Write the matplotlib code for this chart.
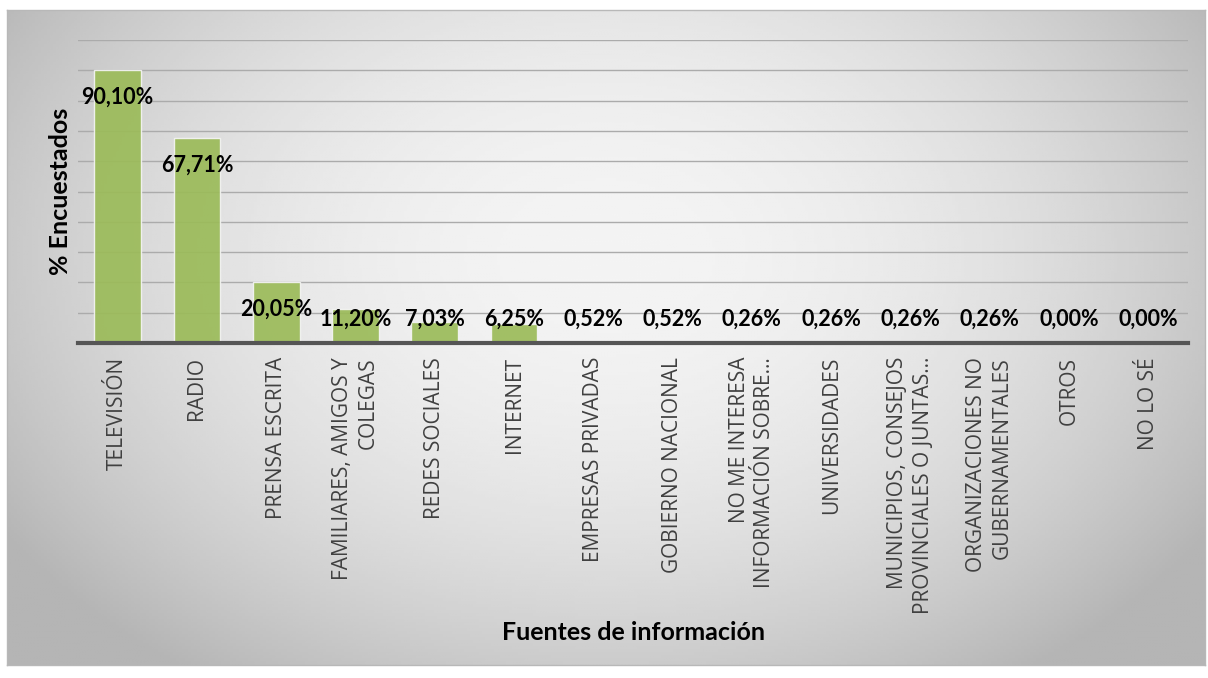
import numpy as np
import matplotlib.pyplot as plt

categories = ["TELEVISIÓN", "RADIO", "PRENSA ESCRITA", "FAMILIARES, AMIGOS Y\nCOLEGAS",
              "REDES SOCIALES", "INTERNET", "EMPRESAS PRIVADAS", "GOBIERNO NACIONAL",
              "NO ME INTERESA\nINFORMACIÓN SOBRE…", "UNIVERSIDADES",
              "MUNICIPIOS, CONSEJOS\nPROVINCIALES O JUNTAS…", "ORGANIZACIONES NO\nGUBERNAMENTALES",
              "OTROS", "NO LO SÉ"]
values = [90.10, 67.71, 20.05, 11.20, 7.03, 6.25, 0.52, 0.52, 0.26, 0.26, 0.26, 0.26, 0.00, 0.00]
labels = ["90,10%", "67,71%", "20,05%", "11,20%", "7,03%", "6,25%", "0,52%", "0,52%",
          "0,26%", "0,26%", "0,26%", "0,26%", "0,00%", "0,00%"]

W, H = 1208, 678
fig = plt.figure(figsize=(W / 100, H / 100), dpi=100)

# chart background: soft radial gray gradient inside a thin border
bx0, by0, bx1, by1 = 7, 10, 1205, 665
bg = fig.add_axes([bx0 / W, 1 - by1 / H, (bx1 - bx0) / W, (by1 - by0) / H])
gx, gy = np.meshgrid(np.linspace(-1, 1, 400), np.linspace(-1, 1, 220))
r = np.sqrt((gx / 1.0) ** 2 + ((gy + 0.25) / 1.3) ** 2)
shade = 0.955 - 0.17 * np.clip(r, 0, 1.2) ** 2
bg.imshow(shade, cmap="gray", vmin=0, vmax=1, aspect="auto", extent=[0, 1, 0, 1])
bg.set_xticks([])
bg.set_yticks([])
for s in bg.spines.values():
    s.set_color("#b8b8b8")
    s.set_linewidth(1)

ax = fig.add_axes([78 / W, 1 - 343 / H, (1188 - 78) / W, (343 - 40) / H])
ax.patch.set_alpha(0)
x = np.arange(len(categories))
ax.bar(x, values, width=0.59, color="#9bbb59", alpha=0.92, edgecolor="#f4f4f4", linewidth=1, zorder=3)
ax.set_xlim(-0.5, len(categories) - 0.5)
ax.set_ylim(0, 100)
ax.set_yticks(np.arange(10, 101, 10))
ax.yaxis.grid(True, color="#ababab", linewidth=1, zorder=0)
ax.tick_params(axis="y", length=0, labelleft=False)
ax.tick_params(axis="x", length=0, pad=10)
for s in ["top", "right", "left"]:
    ax.spines[s].set_visible(False)
ax.spines["bottom"].set_color("#555555")
ax.spines["bottom"].set_linewidth(3)
ax.spines["bottom"].set_zorder(5)

ax.set_xticks(x)
ax.set_xticklabels(categories, rotation=90, ha="center", va="top", multialignment="right",
                   fontsize=15, color="#404040", family="Open Sans", linespacing=1.3)

for xi, v, lab in zip(x, values, labels):
    ax.text(xi, max(v - 9.0, 7.8), lab, ha="center", va="center", fontsize=15.5,
            fontweight="bold", family="Lato", color="black", zorder=6)

ax.set_ylabel("% Encuestados", fontsize=18, fontweight="bold", family="Lato", labelpad=4)
fig.text(633 / W, 1 - 633 / H, "Fuentes de información", ha="center", va="center",
         fontsize=18, fontweight="bold", family="Lato")

fig.savefig("out.png", dpi=100)
